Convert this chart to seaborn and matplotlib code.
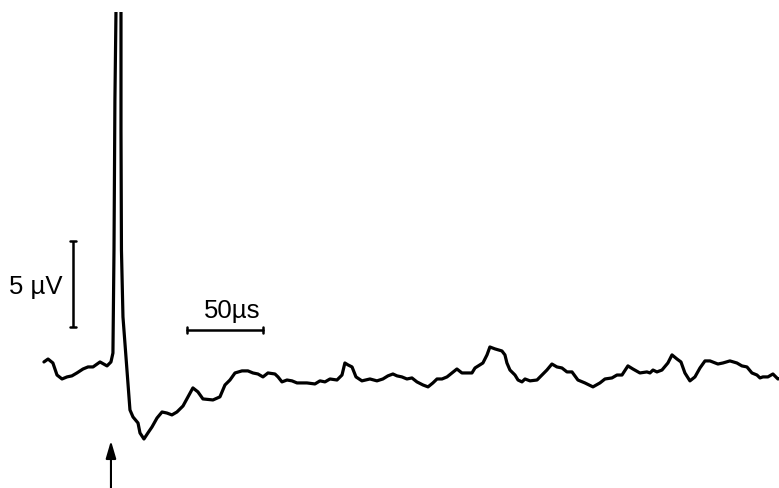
import matplotlib
matplotlib.use("Agg")
import matplotlib.pyplot as plt
import numpy as np
import pandas as pd
import seaborn as sns

# Averaged evoked potential: time after stimulus (µs) and amplitude (µV)
time_us = [
    -44.1, -41.4, -38.2, -35.5, -32.2, -28.9, -25.7, -22.4, -18.4, -15.1,
    -11.8, -7.2, -2.6, 0.0, 1.3, 2.0, 2.6, 3.3, 4.9, 6.6,
    6.6, 6.9, 7.9, 10.5, 12.5, 14.5, 17.8, 19.1, 21.7, 24.3,
    27.0, 30.3, 33.6, 36.8, 40.1, 43.4, 47.4, 50.7, 53.9, 57.2,
    60.5, 67.1, 71.7, 75.0,
    78.3, 81.6, 86.2, 90.1, 93.4, 96.7, 100.0, 103.3, 107.9, 109.9,
    112.5, 115.8, 119.1, 122.4, 128.9, 134.2, 137.5, 140.8, 144.1, 148.7,
    152.0, 153.9, 155.9, 158.6, 161.2, 165.1, 170.4, 175.0, 178.9, 182.2,
    185.5, 188.2, 191.4, 194.7, 198.0, 201.3, 205.3, 208.6, 211.8, 214.5,
    217.8, 221.1, 224.3, 227.6, 230.9, 234.2, 237.5, 239.5, 242.8, 244.7,
    247.4, 249.3, 252.6, 257.2, 259.2, 260.5, 262.5, 265.8, 267.8, 270.4,
    272.4, 275.7, 280.3, 283.6, 286.8, 290.1, 293.4, 296.7, 300.0, 303.3,
    307.2, 311.8, 317.1, 321.7, 325.0, 329.6, 332.9, 336.2, 340.1, 343.4,
    348.0, 352.6, 354.6, 356.6, 359.2, 362.5, 366.4, 369.1, 372.4, 375.0,
    377.6, 380.9, 384.2, 387.5, 390.8, 394.1, 399.3, 402.6, 407.2, 411.8,
    415.1, 418.4, 421.7, 425.0, 427.0, 428.9, 432.2, 435.5, 438.8, 440.8,
]
amplitude_uv = [
    0.00, 0.17, -0.06, -0.76, -0.99, -0.87, -0.81, -0.64, -0.41, -0.29,
    -0.29, 0.00, -0.23, 0.00, 0.52, 6.51, 15.23, 20.35, 24.50, 20.35,
    13.49, 6.51, 2.62, -0.47, -2.79, -3.20, -3.55, -4.13, -4.48, -4.13,
    -3.78, -3.26, -2.91, -2.97, -3.08, -2.91, -2.56, -2.03, -1.51, -1.74,
    -2.15, -2.21, -2.03, -1.34,
    -1.05, -0.64, -0.52, -0.52, -0.64, -0.70, -0.87, -0.64, -0.70, -0.87,
    -1.16, -1.05, -1.10, -1.22, -1.22, -1.28, -1.10, -1.16, -0.99, -1.05,
    -0.76, -0.06, -0.17, -0.29, -0.87, -1.10, -0.99, -1.10, -0.99, -0.81,
    -0.70, -0.81, -0.87, -0.99, -0.93, -1.16, -1.34, -1.45, -1.22, -0.99,
    -0.99, -0.87, -0.64, -0.41, -0.64, -0.64, -0.64, -0.35, -0.17, -0.06,
    0.41, 0.87, 0.76, 0.64, 0.41, -0.06, -0.47, -0.76, -1.05, -1.16,
    -0.99, -1.10, -1.05, -0.76, -0.47, -0.12, -0.29, -0.35, -0.58, -0.58,
    -1.05, -1.22, -1.45, -1.22, -0.99, -0.93, -0.76, -0.76, -0.23, -0.41,
    -0.64, -0.58, -0.64, -0.47, -0.58, -0.47, -0.06, 0.41, 0.17, 0.00,
    -0.64, -1.10, -0.87, -0.35, 0.06, 0.06, -0.12, -0.06, 0.06, -0.06,
    -0.23, -0.29, -0.64, -0.76, -0.93, -0.87, -0.87, -0.70, -0.99, -0.93,
]

# Calibration bars
volt_bar_time = -25.0
volt_bar_uv = [2.03, 7.03]      # 5 µV
time_bar_uv = 1.86
time_bar_us = [50.0, 100.0]     # 50 µs
stimulus_time = 0.0

trace = pd.DataFrame({"t": time_us, "v": amplitude_uv})

sns.set_theme(style="white")
plt.rcParams["font.family"] = ["Liberation Sans", "DejaVu Sans"]

fig = plt.figure(figsize=(7.79, 4.88), dpi=100)
ax = fig.add_axes([0, 0, 1, 476 / 488])

sns.lineplot(data=trace, x="t", y="v", sort=False, estimator=None,
             color="black", linewidth=2.3, ax=ax)

# vertical 5 µV bar with end caps
ax.plot([volt_bar_time, volt_bar_time], volt_bar_uv, color="black",
        lw=1.8, solid_capstyle="butt")
for v in volt_bar_uv:
    ax.plot([volt_bar_time - 2.2, volt_bar_time + 2.2], [v, v],
            color="black", lw=1.8)

# horizontal 50 µs bar with end caps
ax.plot(time_bar_us, [time_bar_uv, time_bar_uv], color="black", lw=1.8)
for t in time_bar_us:
    ax.plot([t, t], [time_bar_uv - 0.2, time_bar_uv + 0.2],
            color="black", lw=1.8)

ax.text(-49.3, 4.36, "5 µV", ha="center", va="center", fontsize=18.5,
        color="black")
ax.text(79.6, 2.97, "50µs", ha="center", va="center", fontsize=18.5,
        color="black")

# stimulus marker
ax.annotate("", xy=(stimulus_time, -4.42), xytext=(stimulus_time, -7.6),
            arrowprops=dict(arrowstyle="-|>,head_length=0.75,head_width=0.22",
                            mutation_scale=14, color="black", lw=1.5),
            annotation_clip=False)

ax.set_xlim(-73.0, 439.5)
ax.set_ylim(-7.33, 20.35)
ax.set_axis_off()

fig.savefig("out.png", dpi=100, facecolor="white")
